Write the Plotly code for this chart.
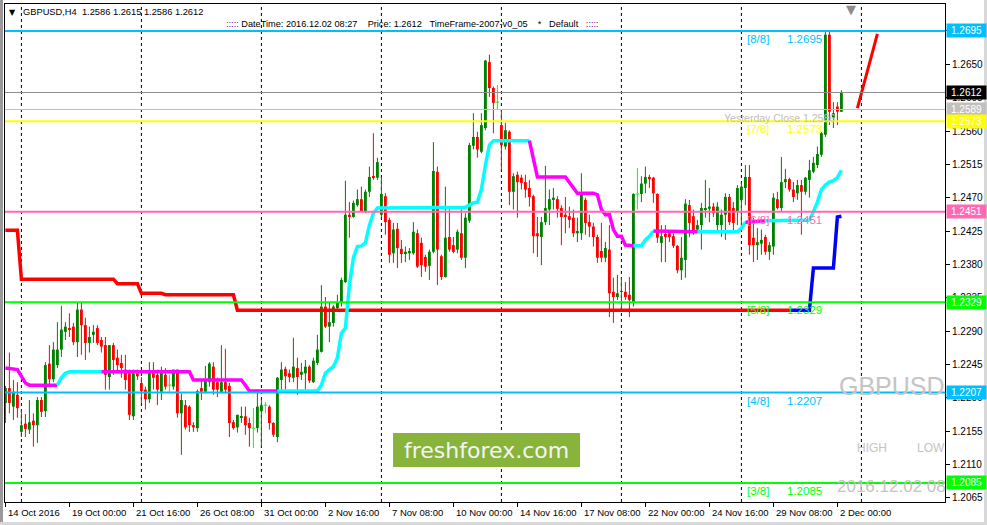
import plotly.graph_objects as go

# ---------------- data ----------------
tick_idx = [0, 16, 32, 48, 64, 80, 96, 112, 128, 144, 160, 176, 192, 208]
tick_text = ["14 Oct 2016", "19 Oct 00:00", "21 Oct 16:00", "26 Oct 08:00", "31 Oct 00:00",
             "2 Nov 16:00", "7 Nov 08:00", "10 Nov 00:00", "14 Nov 16:00", "17 Nov 08:00",
             "22 Nov 00:00", "24 Nov 16:00", "29 Nov 08:00", "2 Dec 00:00"]
separator_idx = [4, 34, 64, 94, 124, 154, 184, 214]

opens = [
    1.2193, 1.2213, 1.2188, 1.2204, 1.2154, 1.2165, 1.2157, 1.2169, 1.2163, 1.2197,
    1.2182, 1.2246, 1.2225, 1.2244, 1.2265, 1.2289, 1.2294, 1.2296, 1.2275, 1.2319,
    1.2298, 1.2274, 1.2285, 1.2294, 1.2278, 1.2271, 1.2228, 1.2271, 1.2254, 1.2247,
    1.2238, 1.2233, 1.2175, 1.2233, 1.2220, 1.2211, 1.2198, 1.2235, 1.2231, 1.2208,
    1.2231, 1.2217, 1.2215, 1.2238, 1.2179, 1.2190, 1.2188, 1.2163, 1.2159, 1.2213,
    1.2208, 1.2221, 1.2242, 1.2221, 1.2208, 1.2221, 1.2216, 1.2167, 1.2160, 1.2173,
    1.2175, 1.2166, 1.2159, 1.2159, 1.2182, 1.2190, 1.2188, 1.2166, 1.2147, 1.2224,
    1.2239, 1.2233, 1.2227, 1.2240, 1.2231, 1.2233, 1.2242, 1.2221, 1.2247, 1.2262,
    1.2323, 1.2296, 1.2301, 1.2321, 1.2328, 1.2356, 1.2447, 1.2444, 1.2460, 1.2468,
    1.2452, 1.2478, 1.2498, 1.2497, 1.2447, 1.2472, 1.2440, 1.2395, 1.2428, 1.2401,
    1.2395, 1.2395, 1.2395, 1.2422, 1.2409, 1.2390, 1.2378, 1.2397, 1.2505, 1.2391,
    1.2363, 1.2417, 1.2406, 1.2400, 1.2422, 1.2389, 1.2439, 1.2540, 1.2552, 1.2532,
    1.2564, 1.2653, 1.2618, 1.2599, 1.2568, 1.2539, 1.2559, 1.2478, 1.2501, 1.2497,
    1.2491, 1.2483, 1.2472, 1.2422, 1.2417, 1.2437, 1.2454, 1.2467, 1.2468, 1.2456,
    1.2447, 1.2445, 1.2443, 1.2422, 1.2422, 1.2467, 1.2437, 1.2431, 1.2417, 1.2398,
    1.2389, 1.2400, 1.2343, 1.2336, 1.2343, 1.2343, 1.2339, 1.2329, 1.2475, 1.2475,
    1.2489, 1.2498, 1.2497, 1.2475, 1.2409, 1.2421, 1.2422, 1.2418, 1.2405, 1.2372,
    1.2386, 1.2460, 1.2445, 1.2427, 1.2433, 1.2454, 1.2455, 1.2458, 1.2433, 1.2433,
    1.2447, 1.2471, 1.2456, 1.2451, 1.2467, 1.2483, 1.2498, 1.2416, 1.2406, 1.2408,
    1.2417, 1.2397, 1.2404, 1.2468, 1.2456, 1.2491, 1.2495, 1.2481, 1.2476, 1.2487,
    1.2478, 1.2494, 1.2505, 1.2514, 1.2528, 1.2555, 1.2690, 1.2578, 1.2593, 1.2586,
]
closes = [
    1.2213, 1.2193, 1.2208, 1.2186, 1.2163, 1.2158, 1.2167, 1.2163, 1.2197, 1.2181,
    1.2244, 1.2225, 1.2265, 1.2265, 1.2292, 1.2296, 1.2292, 1.2275, 1.2319, 1.2298,
    1.2274, 1.2282, 1.2289, 1.2274, 1.2269, 1.2231, 1.2271, 1.2251, 1.2244, 1.2240,
    1.2224, 1.2177, 1.2233, 1.2229, 1.2209, 1.2198, 1.2235, 1.2227, 1.2211, 1.2235,
    1.2215, 1.2217, 1.2238, 1.2179, 1.2197, 1.2160, 1.2163, 1.2160, 1.2209, 1.2208,
    1.2224, 1.2246, 1.2211, 1.2211, 1.2221, 1.2211, 1.2166, 1.2159, 1.2177, 1.2175,
    1.2163, 1.2159, 1.2159, 1.2188, 1.2190, 1.2190, 1.2166, 1.2150, 1.2227, 1.2238,
    1.2229, 1.2228, 1.2242, 1.2228, 1.2235, 1.2242, 1.2223, 1.2250, 1.2265, 1.2323,
    1.2296, 1.2302, 1.2323, 1.2328, 1.2359, 1.2447, 1.2444, 1.2463, 1.2468, 1.2452,
    1.2478, 1.2498, 1.2497, 1.2518, 1.2475, 1.2437, 1.2393, 1.2427, 1.2402, 1.2394,
    1.2397, 1.2398, 1.2424, 1.2377, 1.2379, 1.2377, 1.2397, 1.2506, 1.2400, 1.2363,
    1.2416, 1.2400, 1.2397, 1.2424, 1.2389, 1.2443, 1.2541, 1.2552, 1.2535, 1.2568,
    1.2655, 1.2618, 1.2598, 1.2599, 1.2541, 1.2561, 1.2478, 1.2499, 1.2491, 1.2490,
    1.2481, 1.2471, 1.2418, 1.2418, 1.2437, 1.2456, 1.2468, 1.2470, 1.2455, 1.2444,
    1.2444, 1.2440, 1.2422, 1.2425, 1.2474, 1.2436, 1.2431, 1.2417, 1.2389, 1.2389,
    1.2402, 1.2341, 1.2336, 1.2341, 1.2344, 1.2336, 1.2332, 1.2475, 1.2475, 1.2489,
    1.2498, 1.2495, 1.2476, 1.2416, 1.2418, 1.2417, 1.2417, 1.2405, 1.2372, 1.2389,
    1.2462, 1.2436, 1.2424, 1.2433, 1.2456, 1.2456, 1.2458, 1.2449, 1.2458, 1.2447,
    1.2471, 1.2437, 1.2436, 1.2483, 1.2485, 1.2498, 1.2406, 1.2406, 1.2410, 1.2413,
    1.2397, 1.2406, 1.2470, 1.2456, 1.2491, 1.2495, 1.2481, 1.2471, 1.2487, 1.2478,
    1.2497, 1.2507, 1.2517, 1.2529, 1.2557, 1.2690, 1.2586, 1.2584, 1.2586, 1.2612,
]
highs = [
    1.2216, 1.2261, 1.2224, 1.2221, 1.2184, 1.2178, 1.2197, 1.2179, 1.2201, 1.2201,
    1.2248, 1.2271, 1.2275, 1.2302, 1.2324, 1.2302, 1.2314, 1.2301, 1.2329, 1.2329,
    1.2308, 1.2296, 1.2298, 1.2298, 1.2282, 1.2282, 1.2271, 1.2274, 1.2265, 1.2258,
    1.2258, 1.2238, 1.2238, 1.2238, 1.2228, 1.2215, 1.2248, 1.2248, 1.2238, 1.2242,
    1.2240, 1.2231, 1.2238, 1.2238, 1.2206, 1.2197, 1.2190, 1.2167, 1.2211, 1.2224,
    1.2243, 1.2248, 1.2248, 1.2227, 1.2271, 1.2266, 1.2220, 1.2170, 1.2177, 1.2188,
    1.2188, 1.2173, 1.2186, 1.2211, 1.2197, 1.2194, 1.2190, 1.2167, 1.2228, 1.2248,
    1.2242, 1.2238, 1.2281, 1.2254, 1.2247, 1.2251, 1.2244, 1.2254, 1.2285, 1.2352,
    1.2336, 1.2329, 1.2325, 1.2339, 1.2362, 1.2493, 1.2464, 1.2466, 1.2481, 1.2485,
    1.2481, 1.2512, 1.2557, 1.2524, 1.2498, 1.2476, 1.2443, 1.2436, 1.2436, 1.2413,
    1.2404, 1.2402, 1.2437, 1.2427, 1.2416, 1.2393, 1.2400, 1.2545, 1.2512, 1.2393,
    1.2485, 1.2454, 1.2417, 1.2427, 1.2454, 1.2449, 1.2544, 1.2584, 1.2559, 1.2584,
    1.2656, 1.2663, 1.2620, 1.2622, 1.2589, 1.2571, 1.2561, 1.2503, 1.2505, 1.2501,
    1.2501, 1.2494, 1.2474, 1.2444, 1.2444, 1.2513, 1.2481, 1.2483, 1.2472, 1.2460,
    1.2471, 1.2458, 1.2454, 1.2443, 1.2503, 1.2470, 1.2447, 1.2436, 1.2420, 1.2436,
    1.2410, 1.2433, 1.2362, 1.2366, 1.2362, 1.2356, 1.2363, 1.2476, 1.2510, 1.2499,
    1.2512, 1.2501, 1.2498, 1.2476, 1.2433, 1.2433, 1.2424, 1.2422, 1.2406, 1.2417,
    1.2468, 1.2467, 1.2454, 1.2440, 1.2463, 1.2494, 1.2483, 1.2463, 1.2464, 1.2454,
    1.2476, 1.2475, 1.2464, 1.2487, 1.2490, 1.2514, 1.2514, 1.2443, 1.2429, 1.2427,
    1.2420, 1.2410, 1.2476, 1.2478, 1.2525, 1.2509, 1.2497, 1.2491, 1.2494, 1.2494,
    1.2498, 1.2521, 1.2525, 1.2539, 1.2559, 1.2696, 1.2694, 1.2599, 1.2599, 1.2615,
]
lows = [
    1.2166, 1.2179, 1.2170, 1.2173, 1.2147, 1.2147, 1.2151, 1.2134, 1.2139, 1.2174,
    1.2174, 1.2215, 1.2221, 1.2240, 1.2255, 1.2278, 1.2282, 1.2271, 1.2255, 1.2258,
    1.2251, 1.2261, 1.2274, 1.2271, 1.2261, 1.2211, 1.2211, 1.2231, 1.2233, 1.2227,
    1.2211, 1.2170, 1.2170, 1.2224, 1.2193, 1.2184, 1.2193, 1.2211, 1.2190, 1.2197,
    1.2211, 1.2208, 1.2211, 1.2173, 1.2123, 1.2157, 1.2154, 1.2154, 1.2154, 1.2197,
    1.2206, 1.2215, 1.2204, 1.2201, 1.2206, 1.2206, 1.2147, 1.2157, 1.2153, 1.2166,
    1.2150, 1.2134, 1.2132, 1.2153, 1.2134, 1.2179, 1.2157, 1.2147, 1.2140, 1.2211,
    1.2211, 1.2221, 1.2221, 1.2204, 1.2224, 1.2211, 1.2220, 1.2220, 1.2244, 1.2261,
    1.2294, 1.2275, 1.2296, 1.2319, 1.2323, 1.2355, 1.2416, 1.2443, 1.2458, 1.2451,
    1.2449, 1.2471, 1.2494, 1.2494, 1.2444, 1.2420, 1.2382, 1.2382, 1.2375, 1.2382,
    1.2383, 1.2386, 1.2393, 1.2375, 1.2363, 1.2370, 1.2359, 1.2395, 1.2352, 1.2359,
    1.2362, 1.2397, 1.2395, 1.2395, 1.2386, 1.2375, 1.2436, 1.2535, 1.2524, 1.2530,
    1.2561, 1.2606, 1.2557, 1.2589, 1.2507, 1.2535, 1.2460, 1.2454, 1.2443, 1.2481,
    1.2470, 1.2458, 1.2395, 1.2390, 1.2379, 1.2433, 1.2433, 1.2454, 1.2443, 1.2406,
    1.2422, 1.2429, 1.2417, 1.2410, 1.2413, 1.2420, 1.2417, 1.2404, 1.2382, 1.2383,
    1.2383, 1.2309, 1.2301, 1.2332, 1.2319, 1.2332, 1.2309, 1.2323, 1.2454, 1.2464,
    1.2476, 1.2483, 1.2463, 1.2409, 1.2383, 1.2383, 1.2410, 1.2402, 1.2368, 1.2359,
    1.2362, 1.2417, 1.2420, 1.2422, 1.2400, 1.2443, 1.2437, 1.2444, 1.2424, 1.2417,
    1.2413, 1.2433, 1.2424, 1.2433, 1.2433, 1.2460, 1.2393, 1.2383, 1.2386, 1.2393,
    1.2393, 1.2386, 1.2393, 1.2454, 1.2451, 1.2483, 1.2478, 1.2464, 1.2467, 1.2420,
    1.2474, 1.2470, 1.2503, 1.2510, 1.2525, 1.2552, 1.2568, 1.2564, 1.2568, 1.2586,
]

# Murrey Math levels
mm_levels = [1.2695, 1.2573, 1.2451, 1.2329, 1.2207, 1.2085]
mm_names = ["[8/8]", "[7/8]", "[6/8]", "[5/8]", "[4/8]", "[3/8]"]
mm_colors = ["#00BFFF", "#FFFF00", "#FF69B4", "#00FF00", "#00BFFF", "#00FF00"]

current_price = 1.2612
prev_close_line = 1.2589
yesterday_close = 1.2586

# stepped trend line (red = down, blue = up): vertices
red_idx = [0, 3, 4, 27, 28, 33, 34, 39, 40, 57, 58, 196]
red_val = [1.2426, 1.2426, 1.2360, 1.2360, 1.2354, 1.2354, 1.2341, 1.2341, 1.2339, 1.2339, 1.2318, 1.2318]
blue_idx = [196, 201, 202, 207, 208, 209]
blue_val = [1.2318, 1.2318, 1.2375, 1.2375, 1.2444, 1.2445]

# trailing stop line (U = cyan, D = magenta): vertices + direction of following segment
trail_idx = [0, 3, 5, 6, 13, 14, 15, 16, 24, 46, 47, 59, 60, 61, 68, 78, 79, 80, 81, 82,
             83, 84, 85, 86, 87, 88, 89, 90, 91, 92, 93, 114, 115, 116, 117, 118, 119, 120, 121, 122,
             131, 132, 133, 140, 141, 142, 143, 147, 148, 149, 150, 151, 152, 153, 154, 155, 157, 159, 160, 161,
             162, 173, 183, 184, 185, 190, 200, 201, 202, 203, 204, 205, 206, 207, 208, 209]
trail_val = [1.2240, 1.2238, 1.2220, 1.2217, 1.2217, 1.2227, 1.2233, 1.2235, 1.2235, 1.2235,
             1.2224, 1.2224, 1.2217, 1.2209, 1.2209, 1.2209, 1.2217, 1.2233, 1.2238, 1.2242,
             1.2254, 1.2287, 1.2294, 1.2352, 1.2389, 1.2404, 1.2405, 1.2409, 1.2433, 1.2449,
             1.2456, 1.2456, 1.2457, 1.2460, 1.2463, 1.2464, 1.2481, 1.2514, 1.2541, 1.2547,
             1.2547, 1.2521, 1.2498, 1.2498, 1.2491, 1.2483, 1.2476, 1.2476, 1.2474, 1.2454,
             1.2447, 1.2447, 1.2427, 1.2418, 1.2418, 1.2406, 1.2405, 1.2405, 1.2413, 1.2418,
             1.2425, 1.2424, 1.2424, 1.2429, 1.2437, 1.2439, 1.2439, 1.2440, 1.2451, 1.2464,
             1.2481, 1.2487, 1.2491, 1.2493, 1.2497, 1.2507]
trail_dir = ["D", "D", "D", "D", "U", "U", "U", "U", "D", "D", "D", "D", "D", "D", "U", "U", "U", "U", "U", "U",
             "U", "U", "U", "U", "U", "U", "U", "U", "U", "U", "U", "U", "U", "U", "U", "U", "U", "U", "U", "U",
             "D", "D", "D", "D", "D", "D", "D", "D", "D", "D", "D", "D", "D", "D", "D", "D", "U", "U", "U", "U",
             "D", "U", "U", "U", "D", "U", "U", "U", "U", "U", "U", "U", "U", "U", "U", "U"]

proj_idx = [213, 218]
proj_val = [1.2591, 1.2691]

y_ticks = [1.2065, 1.2110, 1.2155, 1.2200, 1.2245, 1.2290, 1.2335, 1.2380,
           1.2425, 1.2470, 1.2515, 1.2560, 1.2605, 1.2650, 1.2695]

# right-side price labels: value, background, text colour
price_tags = [(1.2695, "#00BFFF", "white"), (1.2612, "#000000", "white"), (1.2589, "#C0C0C0", "white"),
              (1.2573, "#FFFF00", "white"), (1.2451, "#FF69B4", "white"), (1.2329, "#00FF00", "white"),
              (1.2207, "#00BFFF", "white"), (1.2085, "#00FF00", "white")]

FONT = "Liberation Sans, Arial, sans-serif"
BULL, BEAR, DOJI = "#008000", "#FF0000", "#00FF00"

fig = go.Figure()

# ---------------- candles ----------------
wick = {BULL: ([], []), BEAR: ([], []), DOJI: ([], [])}
body = {BULL: ([], [], []), BEAR: ([], [], [])}
for i, (o, h, l, c) in enumerate(zip(opens, highs, lows, closes)):
    if c == o:
        col = DOJI
    elif c > o:
        col = BULL
    else:
        col = BEAR
    wick[col][0].extend([i, i, None])
    wick[col][1].extend([l, h, None])
    if col == DOJI:
        wick[col][0].extend([i - 0.45, i + 0.45, None])
        wick[col][1].extend([o, o, None])
    else:
        body[col][0].append(i)
        body[col][1].append(min(o, c))
        body[col][2].append(abs(c - o))

for col, (xs, ys) in wick.items():
    fig.add_trace(go.Scatter(x=xs, y=ys, mode="lines", line=dict(color=col, width=1),
                             hoverinfo="skip"))
for col, (xs, bs, hs) in body.items():
    fig.add_trace(go.Bar(x=xs, y=hs, base=bs, width=0.72, marker=dict(color=col, line=dict(width=0)),
                         hoverinfo="skip"))

# ---------------- indicator lines ----------------
fig.add_trace(go.Scatter(x=red_idx, y=red_val, mode="lines", line=dict(color="#FF0000", width=3.5),
                         hoverinfo="skip"))
fig.add_trace(go.Scatter(x=blue_idx, y=blue_val, mode="lines", line=dict(color="#0000FF", width=3.5),
                         hoverinfo="skip"))

seg_x, seg_y, seg_d = [trail_idx[0]], [trail_val[0]], trail_dir[0]
for k in range(1, len(trail_idx)):
    seg_x.append(trail_idx[k])
    seg_y.append(trail_val[k])
    if trail_dir[k] != seg_d or k == len(trail_idx) - 1:
        fig.add_trace(go.Scatter(x=seg_x, y=seg_y, mode="lines",
                                 line=dict(color="#00FFFF" if seg_d == "U" else "#FF00FF", width=3.5),
                                 hoverinfo="skip"))
        seg_x, seg_y, seg_d = [trail_idx[k]], [trail_val[k]], trail_dir[k]

fig.add_trace(go.Scatter(x=proj_idx, y=proj_val, mode="lines", line=dict(color="#FF0000", width=3),
                         hoverinfo="skip"))

# ---------------- shapes ----------------
shapes = []
for s in separator_idx:
    shapes.append(dict(type="line", xref="x", yref="paper", x0=s, x1=s, y0=0, y1=1,
                       line=dict(color="black", width=1, dash="3px,3px"), layer="below"))
shapes.append(dict(type="line", xref="paper", yref="y", x0=0, x1=1, y0=current_price, y1=current_price,
                   line=dict(color="#8C8C8C", width=1), layer="above"))
shapes.append(dict(type="line", xref="paper", yref="y", x0=0, x1=1, y0=prev_close_line, y1=prev_close_line,
                   line=dict(color="#C0C0C0", width=1), layer="above"))
for lvl, col in zip(mm_levels, mm_colors):
    shapes.append(dict(type="line", xref="paper", yref="y", x0=0, x1=1, y0=lvl, y1=lvl,
                       line=dict(color=col, width=2), layer="above"))
# freshforex watermark box
shapes.append(dict(type="rect", xref="paper", yref="paper", x0=0.4128, x1=0.6117, y0=0.0703, y1=0.1386,
                   fillcolor="#88B43C", line=dict(width=0), layer="above"))
# window frame
shapes.append(dict(type="rect", xref="paper", yref="paper", x0=-5 / 940, x1=-2 / 940, y0=-23 / 498, y1=4 / 498 + 1,
                   fillcolor="#9A9A9A", line=dict(width=0)))
shapes.append(dict(type="rect", xref="paper", yref="paper", x0=-5 / 940, x1=982 / 940, y0=-23 / 498, y1=-20 / 498,
                   fillcolor="#D8D8D8", line=dict(width=0)))
shapes.append(dict(type="rect", xref="paper", yref="paper", x0=979 / 940, x1=982 / 940, y0=-23 / 498, y1=4 / 498 + 1,
                   fillcolor="#D8D8D8", line=dict(width=0)))

# ---------------- annotations ----------------
ann = []
for t, txt in zip(tick_idx, tick_text):
    ann.append(dict(x=t, y=0, xref="x", yref="paper", text=txt, xanchor="left", yanchor="top",
                    xshift=1, yshift=-3, showarrow=False, font=dict(size=9.5, color="black")))
for lvl, name, col in zip(mm_levels, mm_names, mm_colors):
    ann.append(dict(x=184.9, y=lvl, xref="x", yref="y", text=name, xanchor="left", yanchor="top",
                    yshift=0, showarrow=False, font=dict(size=11.5, color=col)))
    ann.append(dict(x=194.9, y=lvl, xref="x", yref="y", text=f"{lvl:.4f}", xanchor="left", yanchor="top",
                    yshift=0, showarrow=False, font=dict(size=11.5, color=col)))
ann.append(dict(x=179.2, y=prev_close_line, xref="x", yref="y", text=f"Yesterday Close {yesterday_close:.4f}",
                xanchor="left", yanchor="top", yshift=0, showarrow=False, font=dict(size=10.5, color="#C0C0C0")))
ann.append(dict(x=1, y=0.2327, xref="paper", yref="paper", text="GBPUSD", xanchor="right", yanchor="middle",
                xshift=2, showarrow=False, font=dict(size=25, color="#C4C4C4")))
ann.append(dict(x=0.904, y=0.1085, xref="paper", yref="paper", text="HIGH", xanchor="left", yanchor="middle",
                showarrow=False, font=dict(size=12, color="#C4C4C4")))
ann.append(dict(x=0.968, y=0.1085, xref="paper", yref="paper", text="LOW", xanchor="left", yanchor="middle",
                showarrow=False, font=dict(size=12, color="#C4C4C4")))
ann.append(dict(x=0.883, y=0.0321, xref="paper", yref="paper", text="2016.12.02 08", xanchor="left",
                yanchor="middle", showarrow=False, font=dict(size=17, color="#C4C4C4")))
ann.append(dict(x=0.5122, y=0.1044, xref="paper", yref="paper", text="freshforex.com", xanchor="center",
                yanchor="middle", showarrow=False, font=dict(size=22, color="#F4F4F4", family="DejaVu Sans")))
# header
ann.append(dict(x=0.0075, y=0.9839, xref="paper", yref="paper", text="▼", xanchor="center", yanchor="middle",
                showarrow=False, font=dict(size=8, color="black", family="DejaVu Sans")))
ann.append(dict(x=0.0165, y=0.9839, xref="paper", yref="paper",
                text="GBPUSD,H4\u00a0\u00a01.2586 1.2615 1.2586 1.2612", xanchor="left", yanchor="middle",
                showarrow=False, font=dict(size=9.3, color="black")))
ann.append(dict(x=0.2335, y=0.9598, xref="paper", yref="paper",
                text="<span style='color:#800080'>:::::</span> DateTime: 2016.12.02 08:27\u00a0\u00a0\u00a0\u00a0"
                     "Price: 1.2612\u00a0\u00a0\u00a0TimeFrame-2007-v0_05\u00a0\u00a0\u00a0\u00a0*\u00a0\u00a0\u00a0"
                     "Default\u00a0\u00a0\u00a0<span style='color:#800080'>:::::</span>",
                xanchor="left", yanchor="middle", showarrow=False, font=dict(size=9.2, color="black")))
ann.append(dict(x=211.3, y=1, xref="x", yref="paper", text="▼", xanchor="center", yanchor="top", yshift=4,
                showarrow=False, font=dict(size=13, color="#8C8C8C", family="DejaVu Sans")))
for val, bg, fg in price_tags:
    ann.append(dict(x=1, y=val, xref="paper", yref="y", text=f"{val:.4f}", xanchor="left", yanchor="middle",
                    xshift=1, showarrow=False, bgcolor=bg, width=37, height=11, borderpad=1,
                    font=dict(size=10, color=fg)))

fig.update_layout(
    width=987, height=525, margin=dict(l=5, r=42, t=4, b=23, autoexpand=False),
    paper_bgcolor="white", plot_bgcolor="white", showlegend=False, barmode="overlay", hovermode=False,
    font=dict(family=FONT, size=10, color="black"),
    xaxis=dict(range=[-0.1, 234.9], showgrid=False, zeroline=False, showline=True, linecolor="black",
               linewidth=1, mirror=True, ticks="outside", ticklen=4, tickcolor="black",
               tickvals=tick_idx, showticklabels=False, fixedrange=True),
    yaxis=dict(side="right", range=[1.20593, 1.27314], showgrid=False, zeroline=False, showline=True,
               linecolor="black", linewidth=1, mirror=True, ticks="outside", ticklen=4, tickcolor="black",
               tickvals=y_ticks, ticktext=[f"{v:.4f}" for v in y_ticks], tickfont=dict(size=10),
               fixedrange=True),
    shapes=shapes, annotations=ann,
)

fig.write_html("out.html", config={"displayModeBar": False},
               post_script="document.body.style.margin='0px';document.body.style.overflow='hidden';")
